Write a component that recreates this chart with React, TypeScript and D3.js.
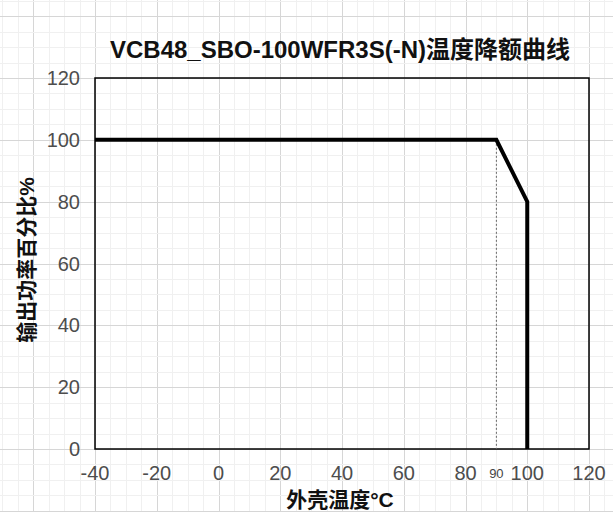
import { useEffect, useRef } from 'react'
import * as d3 from 'd3'

const title = 'VCB48_SBO-100WFR3S(-N)温度降额曲线'
const xLabel = '外壳温度°C'
const yLabel = '输出功率百分比%'

const temps = [-40, 90, 100, 100]
const power = [100, 100, 80, 0]
const xTicks = [-40, -20, 0, 20, 40, 60, 80, 100, 120]
const yTicks = [0, 20, 40, 60, 80, 100, 120]
const kneeTemp = 90

const W = 613
const H = 512

export default function App() {
  const svgRef = useRef<SVGSVGElement>(null)

  useEffect(() => {
    const svgEl = svgRef.current
    if (!svgEl) return
    document.body.style.margin = '0'

    const margin = { top: 78, right: 24, bottom: 63, left: 95 }
    const innerW = W - margin.left - margin.right
    const innerH = H - margin.top - margin.bottom

    const x = d3.scaleLinear().domain([-40, 120]).range([0, innerW])
    const y = d3.scaleLinear().domain([0, 120]).range([innerH, 0])

    const svg = d3.select(svgEl)
    svg.selectAll('*').remove()
    svg.append('rect').attr('width', W).attr('height', H).attr('fill', '#fff')

    const g = svg.append('g').attr('transform', `translate(${margin.left},${margin.top})`)

    // Background grid over the whole page, aligned with the axis scale
    const xMin = x.invert(-margin.left)
    const xMax = x.invert(W - margin.left)
    const yMin = y.invert(H - margin.top)
    const yMax = y.invert(-margin.top)
    const gridX = d3.range(Math.ceil(xMin / 5) * 5, xMax, 5)
    const gridY = d3.range(Math.ceil(yMin / 5) * 5, yMax, 5)
    const gridColor = (d: number) => (d % 20 === 0 ? '#d6d6d6' : '#f0f0f0')

    const grid = g.append('g')
    grid.selectAll('line.gx')
      .data(gridX)
      .enter()
      .append('line')
      .attr('x1', d => Math.round(x(d)) + 0.5).attr('x2', d => Math.round(x(d)) + 0.5)
      .attr('y1', -margin.top).attr('y2', H - margin.top)
      .style('stroke', gridColor)
      .style('stroke-width', '1')
    grid.selectAll('line.gy')
      .data(gridY)
      .enter()
      .append('line')
      .attr('y1', d => Math.round(y(d)) + 0.5).attr('y2', d => Math.round(y(d)) + 0.5)
      .attr('x1', -margin.left).attr('x2', W - margin.left)
      .style('stroke', gridColor)
      .style('stroke-width', '1')

    // Plot frame
    g.append('rect')
      .attr('width', innerW)
      .attr('height', innerH)
      .attr('fill', 'none')
      .style('stroke', '#000')
      .style('stroke-width', '1.5')

    // Tick labels
    g.selectAll('text.xt')
      .data(xTicks)
      .enter()
      .append('text')
      .attr('x', d => x(d))
      .attr('y', innerH + 31)
      .attr('text-anchor', 'middle')
      .style('fill', '#4d4d4d')
      .style('font-size', '20px')
      .style('font-family', '"Liberation Sans", Arial, sans-serif')
      .text(d => d)

    g.selectAll('text.yt')
      .data(yTicks)
      .enter()
      .append('text')
      .attr('x', -15)
      .attr('y', d => y(d) + 7)
      .attr('text-anchor', 'end')
      .style('fill', '#4d4d4d')
      .style('font-size', '20px')
      .style('font-family', '"Liberation Sans", Arial, sans-serif')
      .text(d => d)

    // Knee marker
    g.append('line')
      .attr('x1', x(kneeTemp)).attr('x2', x(kneeTemp))
      .attr('y1', y(100)).attr('y2', y(0))
      .style('stroke', '#666')
      .style('stroke-width', '1')
      .style('stroke-dasharray', '2,2')

    g.append('text')
      .attr('x', x(kneeTemp))
      .attr('y', innerH + 29)
      .attr('text-anchor', 'middle')
      .style('fill', '#444')
      .style('font-size', '13px')
      .style('font-family', '"Liberation Sans", Arial, sans-serif')
      .text(kneeTemp)

    // Derating curve
    const pts = temps.map((t, i) => [t, power[i]] as [number, number])
    const line = d3.line<[number, number]>()
      .x(d => x(d[0]))
      .y(d => y(d[1]))

    g.append('path')
      .datum(pts)
      .attr('fill', 'none')
      .attr('d', line)
      .style('stroke', '#000')
      .style('stroke-width', '4')
      .style('stroke-linejoin', 'miter')

    // Title and axis labels
    svg.append('text')
      .attr('x', 340)
      .attr('y', 58)
      .attr('text-anchor', 'middle')
      .style('fill', '#111')
      .style('font-size', '24px')
      .style('font-weight', 'bold')
      .style('font-family', '"Liberation Sans", "Noto Sans CJK SC", sans-serif')
      .text(title)

    svg.append('text')
      .attr('x', 340)
      .attr('y', 507)
      .attr('text-anchor', 'middle')
      .style('fill', '#111')
      .style('font-size', '21px')
      .style('font-weight', 'bold')
      .style('font-family', '"Liberation Sans", "Noto Sans CJK SC", sans-serif')
      .text(xLabel)

    svg.append('text')
      .attr('transform', `translate(34,260) rotate(-90)`)
      .attr('text-anchor', 'middle')
      .style('fill', '#111')
      .style('font-size', '21px')
      .style('font-weight', 'bold')
      .style('font-family', '"Liberation Sans", "Noto Sans CJK SC", sans-serif')
      .text(yLabel)
  }, [])

  return <svg ref={svgRef} width={W} height={H} style={{ display: 'block' }} />
}
